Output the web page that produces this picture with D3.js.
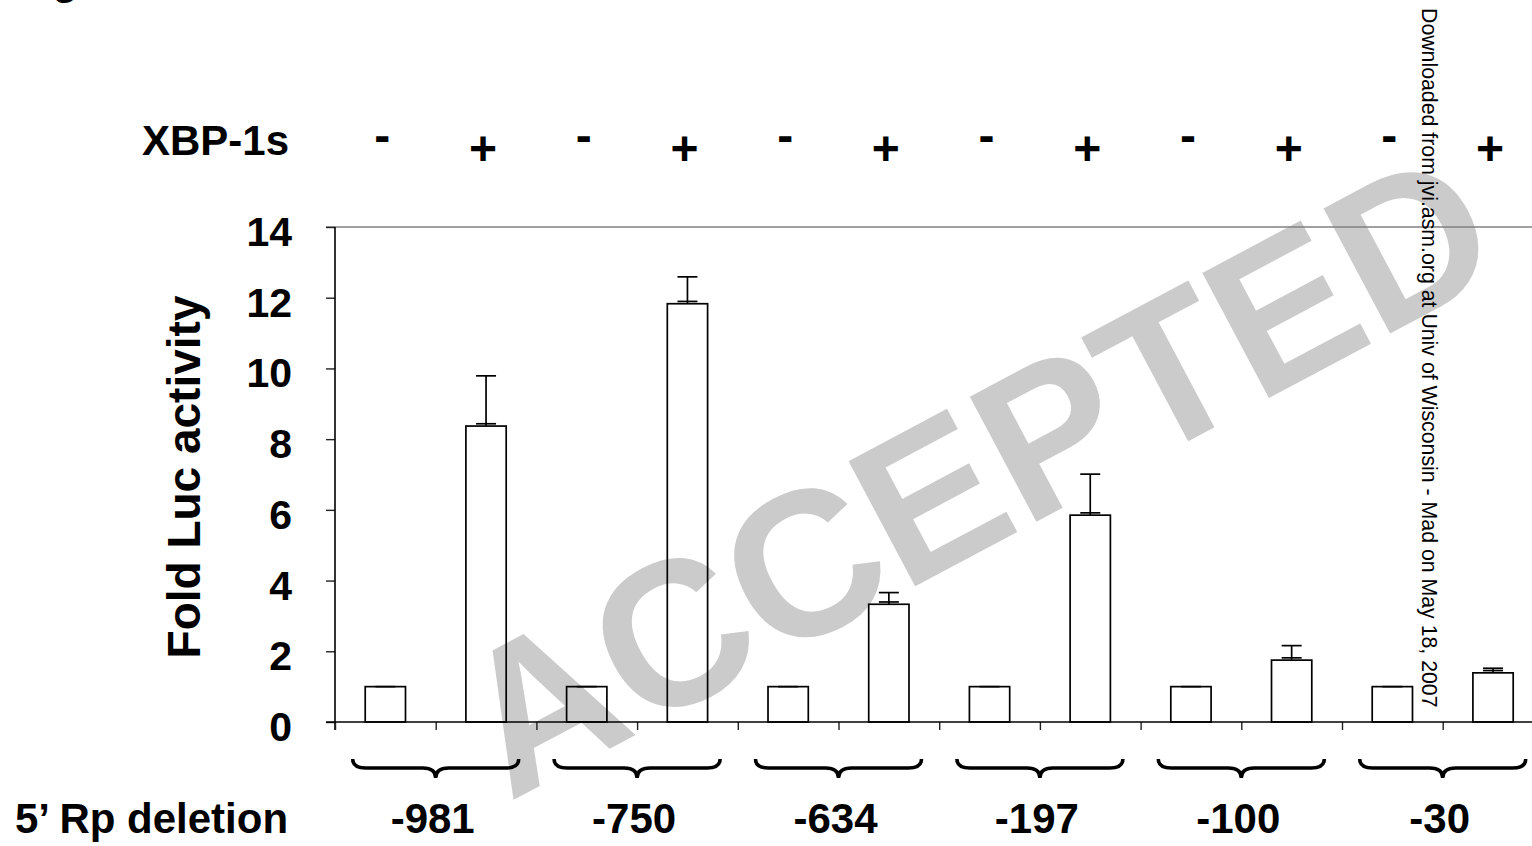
<!DOCTYPE html>
<html>
<head>
<meta charset="utf-8">
<script src="https://cdn.jsdelivr.net/npm/d3@7"></script>
<style>
  html, body { margin: 0; padding: 0; background: #fff; }
  svg { display: block; font-family: "Liberation Sans", Arial, Helvetica, sans-serif; }
</style>
</head>
<body>
<svg id="chart"></svg>
<script>
// ---- data ----
const groups = ['-981', '-750', '-634', '-197', '-100', '-30'];
const treatments = ['-', '+'];
const meanMinus = [1, 1, 1, 1, 1, 1];
const errMinus  = [0, 0, 0, 0, 0, 0];
const meanPlus  = [8.37, 11.83, 3.33, 5.85, 1.75, 1.39];
const errPlus   = [1.42, 0.76, 0.33, 1.16, 0.41, 0.13];
const yTicks = [0, 2, 4, 6, 8, 10, 12, 14];

const W = 1532, H = 846;
const svg = d3.select('#chart').attr('width', W).attr('height', H);

// one row per bar, group by group
const bars = [];
groups.forEach((g, i) => {
  bars.push({key: g + '|-', group: g, sign: '-', mean: meanMinus[i], err: errMinus[i]});
  bars.push({key: g + '|+', group: g, sign: '+', mean: meanPlus[i], err: errPlus[i]});
});

// scales
const x0 = 335, step = 100.7;
const x = d3.scaleBand().domain(bars.map(d => d.key)).range([x0, x0 + step * bars.length]).padding(0);
const xg = d3.scaleBand().domain(groups).range([x0, x0 + step * bars.length]).padding(0);
const xb = d3.scaleLinear().domain([0, bars.length]).range([x0, x0 + step * bars.length]);
const y = d3.scaleLinear().domain([0, 14]).range([722, 227]);

// watermark goes underneath everything
svg.append('text')
  .attr('transform', 'translate(974,470) rotate(-28)')
  .attr('text-anchor', 'middle')
  .attr('y', 75)
  .attr('font-size', 206)
  .attr('font-weight', 'bold')
  .attr('fill', '#cbcbcb')
  .text('ACCEPTED');

// clipped figure label at the very top
svg.append('text')
  .attr('x', 15).attr('y', -6)
  .attr('font-size', 42).attr('font-weight', 'bold')
  .text('Figure 7');

// top reference line at 14
svg.append('line')
  .attr('x1', 326).attr('x2', W)
  .attr('y1', y(14)).attr('y2', y(14))
  .attr('stroke', '#808080').attr('stroke-width', 1.6);

// y axis
const gy = svg.append('g').attr('transform', `translate(${x0},0)`)
  .call(d3.axisLeft(y).tickValues(yTicks).tickSize(9).tickSizeOuter(0).tickPadding(34));
gy.select('.domain').remove();
gy.selectAll('.tick line').attr('stroke', '#222').attr('stroke-width', 1.4);
gy.selectAll('.tick text')
  .attr('font-size', 41).attr('font-weight', 'bold')
  .attr('font-family', '"Liberation Sans", Arial, sans-serif')
  .attr('fill', '#000').attr('dy', '0.45em');
svg.append('line')
  .attr('x1', x0).attr('x2', x0).attr('y1', y(14)).attr('y2', y(0) + 8)
  .attr('stroke', '#000').attr('stroke-width', 1.6);

// x axis: ticks at band boundaries
const gx = svg.append('g').attr('transform', `translate(0,${y(0)})`)
  .call(d3.axisBottom(xb).tickValues(d3.range(bars.length + 1)).tickFormat('').tickSize(8).tickSizeOuter(0));
gx.select('.domain').remove();
gx.selectAll('.tick line').attr('stroke', '#222').attr('stroke-width', 1.4);
svg.append('line')
  .attr('x1', 326).attr('x2', W).attr('y1', y(0)).attr('y2', y(0))
  .attr('stroke', '#000').attr('stroke-width', 1.6);

// bars (open, so the watermark shows through like the scan)
const bw = x.bandwidth() * 0.4;
const cx = d => x(d.key) + x.bandwidth() / 2;
svg.append('g').selectAll('rect')
  .data(bars).join('rect')
  .attr('x', d => cx(d) - bw / 2)
  .attr('y', d => y(d.mean))
  .attr('width', bw)
  .attr('height', d => y(0) - y(d.mean))
  .attr('fill', 'none')
  .attr('stroke', '#000').attr('stroke-width', 1.7);

// error bars (upper half, with the little cap sitting on the bar)
const ge = svg.append('g').attr('stroke', '#000').attr('stroke-width', 1.7);
const capW = 10;
ge.selectAll('line.v').data(bars.filter(d => d.err > 0)).join('line')
  .attr('class', 'v')
  .attr('x1', cx).attr('x2', cx)
  .attr('y1', d => y(d.mean)).attr('y2', d => y(d.mean + d.err));
ge.selectAll('line.top').data(bars).join('line')
  .attr('class', 'top')
  .attr('x1', d => cx(d) - capW).attr('x2', d => cx(d) + capW)
  .attr('y1', d => y(d.mean + d.err)).attr('y2', d => y(d.mean + d.err));
ge.selectAll('line.bot').data(bars.filter(d => d.err > 0)).join('line')
  .attr('class', 'bot')
  .attr('x1', d => cx(d) - capW).attr('x2', d => cx(d) + capW)
  .attr('y1', d => y(d.mean) - 2.3).attr('y2', d => y(d.mean) - 2.3);

// +/- row above the plot
svg.append('text')
  .attr('x', 142).attr('y', 155)
  .attr('font-size', 42).attr('font-weight', 'bold')
  .text('XBP-1s');
svg.append('g').selectAll('text')
  .data(bars).join('text')
  .attr('x', d => cx(d) - 3)
  .attr('y', d => d.sign === '-' ? 152 : 165)
  .attr('text-anchor', 'middle')
  .attr('font-size', 48).attr('font-weight', 'bold')
  .text(d => d.sign);

// braces under each pair
function brace(c) {
  const hw = 83, y0 = 759, ym = 768, yt = 778, r = 13;
  return `M${c - hw},${y0} Q${c - hw},${ym} ${c - hw + r},${ym} L${c - r},${ym} Q${c},${ym} ${c},${yt}` +
         ` Q${c},${ym} ${c + r},${ym} L${c + hw - r},${ym} Q${c + hw},${ym} ${c + hw},${y0}`;
}
svg.append('g').selectAll('path')
  .data(groups).join('path')
  .attr('d', g => brace(xg(g) + xg.bandwidth() / 2))
  .attr('fill', 'none')
  .attr('stroke', '#000').attr('stroke-width', 3.5);

// group labels
svg.append('g').selectAll('text')
  .data(groups).join('text')
  .attr('x', g => xg(g) + xg.bandwidth() / 2 - 3)
  .attr('y', 833)
  .attr('text-anchor', 'middle')
  .attr('font-size', 42).attr('font-weight', 'bold')
  .text(g => g);
svg.append('text')
  .attr('x', 15).attr('y', 833)
  .attr('font-size', 42).attr('font-weight', 'bold')
  .text('5\u2019 Rp deletion');

// y title
svg.append('text')
  .attr('transform', 'translate(200,477) rotate(-90)')
  .attr('text-anchor', 'middle')
  .attr('font-size', 46).attr('font-weight', 'bold')
  .text('Fold Luc activity');

// download stamp down the right side
svg.append('text')
  .attr('transform', 'translate(1422,8) rotate(90)')
  .attr('font-size', 21.3)
  .attr('fill', '#000')
  .text('Downloaded from jvi.asm.org at Univ of Wisconsin - Mad on May 18, 2007');
</script>
</body>
</html>
